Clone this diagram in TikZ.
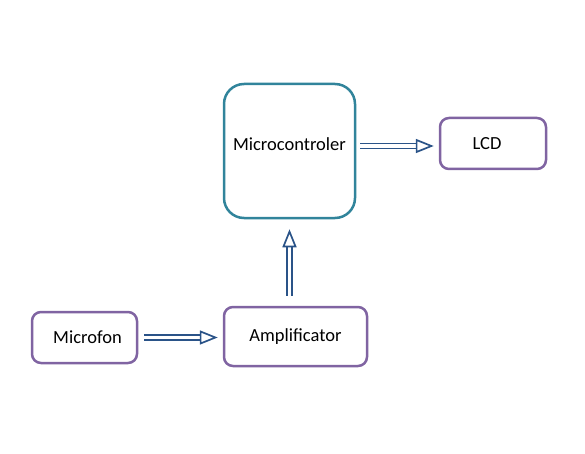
\documentclass[tikz,border=0pt]{standalone}
\usepackage{fontspec}
\setmainfont{Carlito}
\usetikzlibrary{arrows.meta}
\definecolor{tealline}{HTML}{31849B}
\definecolor{purpleline}{HTML}{8064A2}
\definecolor{arrowblue}{HTML}{2A5388}
\begin{document}
\begin{tikzpicture}[x=1pt,y=-1pt,
  block/.style={draw=purpleline, line width=2.5pt, rounded corners=9pt, fill=white,
    font=\fontsize{18.5}{22}\selectfont},
  bigblock/.style={block, draw=tealline, rounded corners=20pt},
  flow/.style={draw=arrowblue, line width=1.7pt, double=white, double distance=3.5pt,
    -{Triangle[open, length=18pt, width=14pt, line width=1.7pt]}}]
\useasboundingbox (0,0) rectangle (585,454);
% Blocuri
\node[bigblock, minimum width=131pt, minimum height=134pt, text depth=14pt] (mc) at (289.5,151) {Microcontroler};
\node[block, minimum width=106pt, minimum height=51pt] (lcd) at (493,143.5) {\hspace*{-12pt}LCD};
\node[block, minimum width=105pt, minimum height=51pt] (mic) at (84.5,337.5) {\hspace*{6pt}Microfon};
\node[block, minimum width=143pt, minimum height=59pt] (amp) at (295.5,336.5) {Amplificator};
% Legaturi
\draw[flow, shorten <=4pt, shorten >=5pt] (mc.east |- 0,146) -- (lcd.west |- 0,146);
\draw[flow, shorten <=10pt, shorten >=10pt] (amp.north -| mc.south) -- (mc.south);
\draw[flow, shorten <=6pt, shorten >=5pt] (mic.east) -- (amp.west |- mic.east);
\end{tikzpicture}
\end{document}
